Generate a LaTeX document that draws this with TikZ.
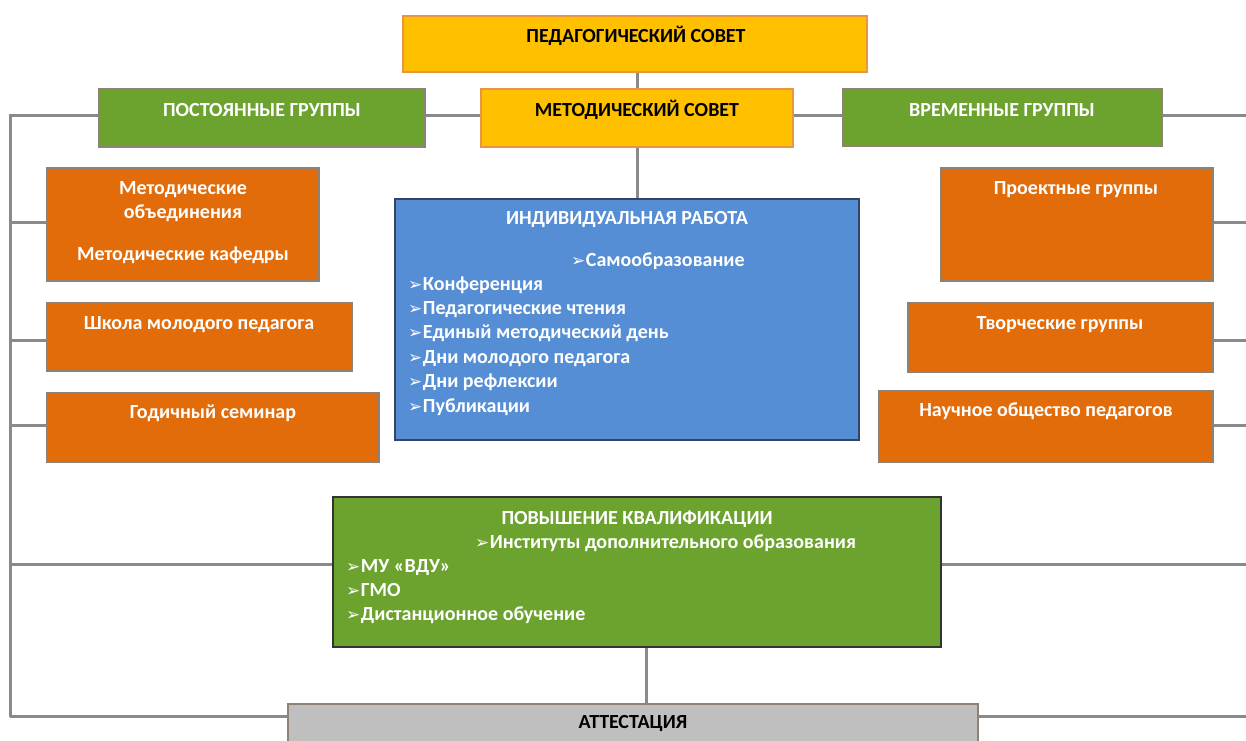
\documentclass[tikz,border=0pt]{standalone}
\usepackage{fontspec}
\setmainfont{Carlito}
\newfontfamily\symfont{DejaVu Sans}
\usetikzlibrary{backgrounds}
\definecolor{cyel}{RGB}{255,192,0}
\definecolor{cyelb}{RGB}{232,150,70}
\definecolor{cgrn}{RGB}{107,163,46}
\definecolor{cora}{RGB}{227,108,10}
\definecolor{coraB}{RGB}{140,130,120}
\definecolor{cblu}{RGB}{85,142,213}
\definecolor{cbluB}{RGB}{50,70,100}
\definecolor{cgry}{RGB}{191,191,191}
\definecolor{cline}{RGB}{138,138,138}
\newcommand\bul{{\symfont\fontsize{17}{17}\selectfont ➢}\kern0.5pt}
\tikzset{
  bx/.style={draw, line width=1.6pt, inner sep=0pt},
  ybox/.style={bx, fill=cyel, draw=cyelb},
  gbox/.style={bx, fill=cgrn, draw=coraB},
  obox/.style={bx, fill=cora, draw=coraB},
  bbox/.style={bx, fill=cblu, draw=cbluB},
  pbox/.style={bx, fill=cgrn, draw=black!80},
  abox/.style={bx, fill=cgry, draw=coraB},
  tw/.style={text=white, font=\bfseries\fontsize{20}{24}\selectfont, inner sep=0pt, anchor=base},
  tk/.style={tw, text=black},
  twl/.style={tw, anchor=base west},
  conn/.style={draw=cline, line width=3pt}
}
\begin{document}
\begin{tikzpicture}[x=1pt,y=-1pt]
\useasboundingbox (0,0) rectangle (1246,740);
\clip (0,0) rectangle (1246,740);
% boxes
\node[ybox, minimum width=464pt, minimum height=56pt] (ped) at (635,44) {};
\node[ybox, minimum width=312pt, minimum height=58pt] (met) at (637,118) {};
\node[gbox, minimum width=326pt, minimum height=58pt] (post) at (262,118) {};
\node[gbox, minimum width=319pt, minimum height=57pt] (vrem) at (1002.5,117.5) {};
\node[obox, minimum width=272pt, minimum height=113pt] (mo) at (183,224.5) {};
\node[obox, minimum width=305pt, minimum height=68pt] (shk) at (199.5,337) {};
\node[obox, minimum width=332pt, minimum height=69pt] (god) at (213,427.5) {};
\node[bbox, minimum width=464pt, minimum height=241pt] (ind) at (627,319.5) {};
\node[obox, minimum width=272pt, minimum height=113pt] (proj) at (1077,224.5) {};
\node[obox, minimum width=305pt, minimum height=69pt] (tvor) at (1060.5,337.5) {};
\node[obox, minimum width=334pt, minimum height=71pt] (nauch) at (1046,426.5) {};
\node[pbox, minimum width=608pt, minimum height=150pt] (pov) at (637,572) {};
\node[abox, minimum width=690pt, minimum height=50pt] (att) at (633,729) {};
% texts
\node[tk] (pedt) at (636,42) {ПЕДАГОГИЧЕСКИЙ СОВЕТ};
\node[tk] (mett) at (637,116) {МЕТОДИЧЕСКИЙ СОВЕТ};
\node[tw] (postt) at (262,116) {ПОСТОЯННЫЕ ГРУППЫ};
\node[tw] (vremt) at (1002,116) {ВРЕМЕННЫЕ ГРУППЫ};
\node[tw] (mot1) at (183,194) {Методические};
\node[tw] (mot2) at (183,218) {объединения};
\node[tw] (mot3) at (183,260) {Методические кафедры};
\node[tw] (shkt) at (199,329) {Школа молодого педагога};
\node[tw] (godt) at (213,418) {Годичный семинар};
\node[tw] (projt) at (1076,194) {Проектные группы};
\node[tw] (tvort) at (1060,329) {Творческие группы};
\node[tw] (naucht) at (1046,416) {Научное общество педагогов};
\node[tw] (indt) at (627,224) {ИНДИВИДУАЛЬНАЯ РАБОТА};
\node[twl] (ind0) at (571,266) {\bul Самообразование};
\node[twl] (ind1) at (408,290) {\bul Конференция};
\node[twl] (ind2) at (408,314) {\bul Педагогические чтения};
\node[twl] (ind3) at (408,338) {\bul Единый методический день};
\node[twl] (ind4) at (408,363) {\bul Дни молодого педагога};
\node[twl] (ind5) at (408,387) {\bul Дни рефлексии};
\node[twl] (ind6) at (408,412) {\bul Публикации};
\node[tw] (povt) at (637,524) {ПОВЫШЕНИЕ КВАЛИФИКАЦИИ};
\node[twl] (pov0) at (475,548) {\bul Институты дополнительного образования};
\node[twl] (pov1) at (346,572) {\bul МУ «ВДУ»};
\node[twl] (pov2) at (346,596) {\bul ГМО};
\node[twl] (pov3) at (346,620) {\bul Дистанционное обучение};
\node[tk] (attt) at (633,728) {АТТЕСТАЦИЯ};
% connectors
\begin{scope}[on background layer]
\coordinate (L0) at (10,115.5);
\coordinate (L1) at (10,222);
\coordinate (L2) at (10,340);
\coordinate (L3) at (10,425.5);
\coordinate (L4) at (10,564.5);
\coordinate (L5) at (10,716.5);
\coordinate (R0) at (1250,115.5);
\coordinate (R1) at (1250,222);
\coordinate (R2) at (1250,340);
\coordinate (R3) at (1250,425.5);
\coordinate (R4) at (1250,564.5);
\coordinate (R5) at (1250,716.5);
\draw[conn] (L5) -- (L0) -- (post.west |- L0);
\draw[conn] (post.east |- L0) -- (met.west |- L0);
\draw[conn] (met.east |- L0) -- (vrem.west |- L0);
\draw[conn] (vrem.east |- R0) -- (R0);
\draw[conn] (L1) -- (mo.west |- L1);
\draw[conn] (L2) -- (shk.west |- L2);
\draw[conn] (L3) -- (god.west |- L3);
\draw[conn] (L4) -- (pov.west |- L4);
\draw[conn] (L5) -- (att.west |- L5);
\draw[conn] (proj.east |- R1) -- (R1);
\draw[conn] (tvor.east |- R2) -- (R2);
\draw[conn] (nauch.east |- R3) -- (R3);
\draw[conn] (pov.east |- R4) -- (R4);
\draw[conn] (att.east |- R5) -- (R5);
\draw[conn] (met.north |- ped.south) -- (met.north);
\draw[conn] (met.south) -- (met.south |- ind.north);
\draw[conn] ([xshift=9pt]pov.south) -- ([xshift=9pt]pov.south |- att.north);
\end{scope}
\end{tikzpicture}
\end{document}
